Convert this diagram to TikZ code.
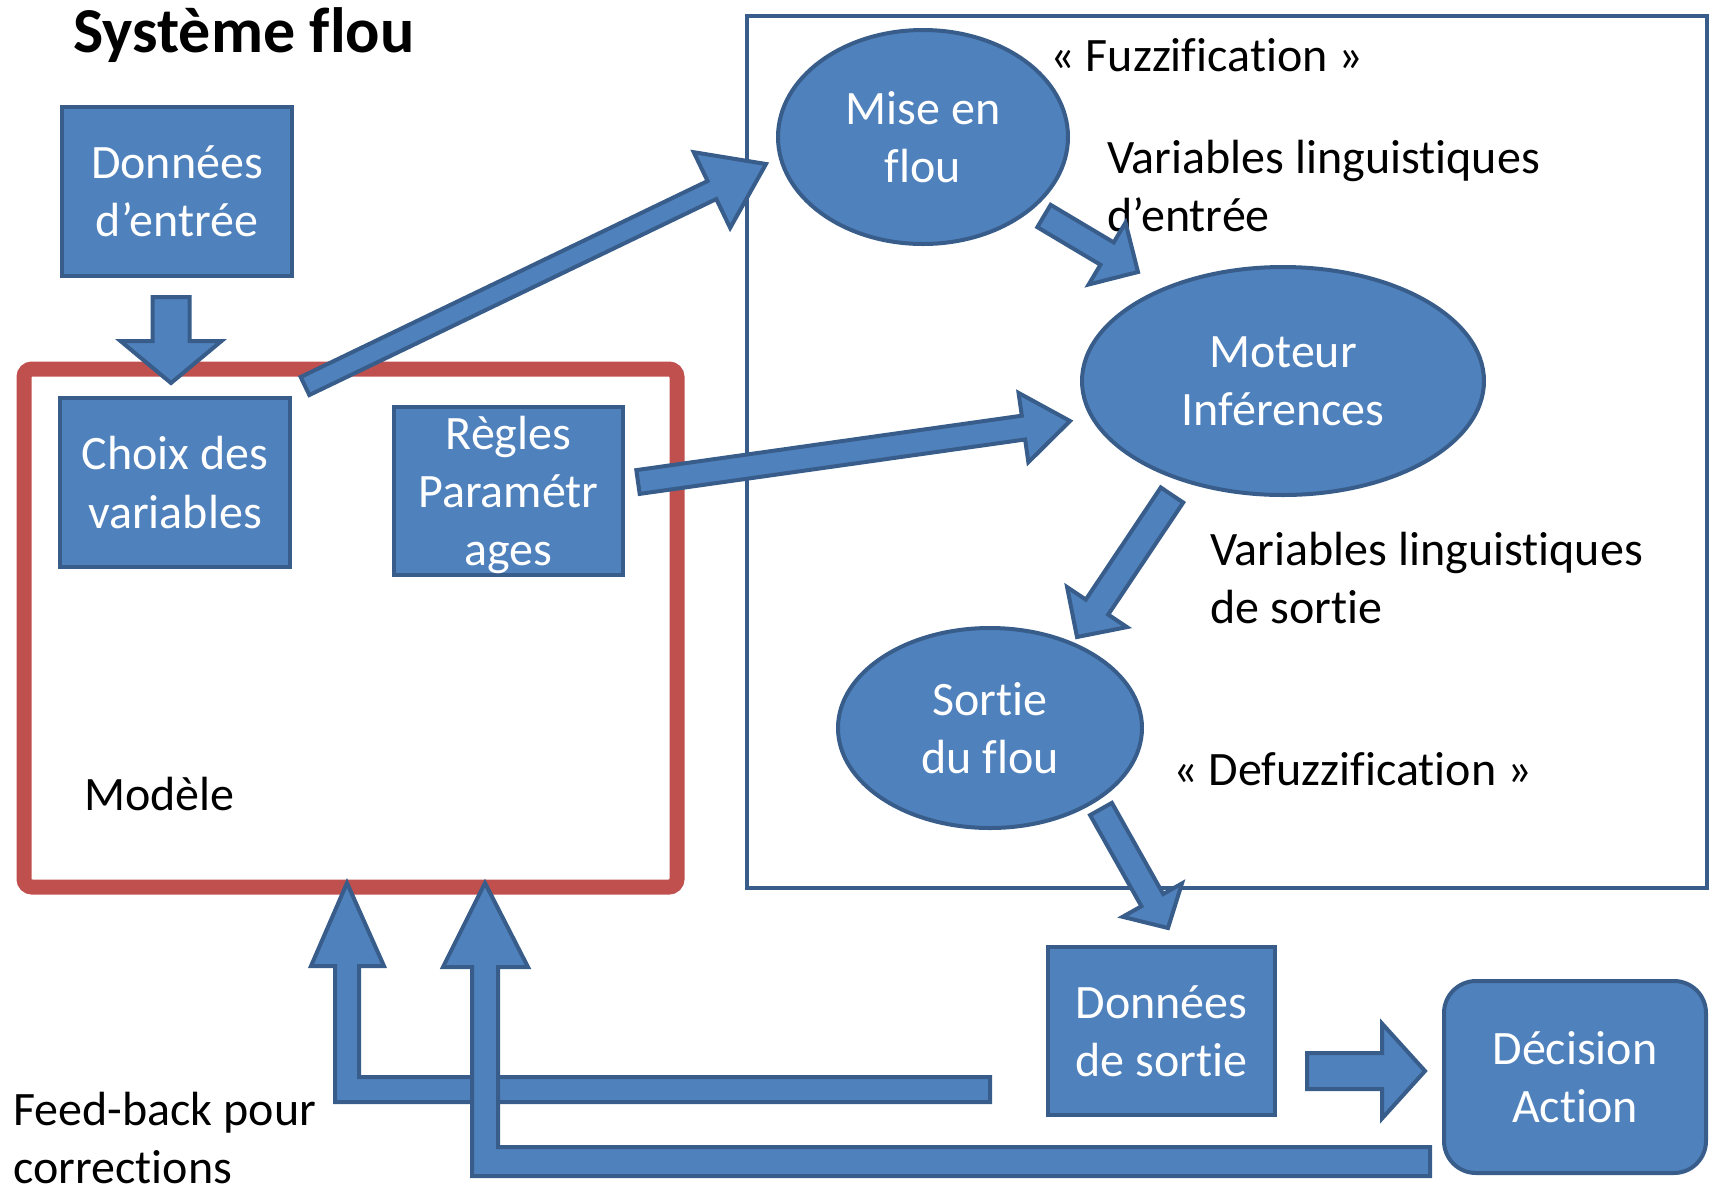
\documentclass[tikz,border=0pt]{standalone}
\usepackage{fontspec}
\setmainfont{Carlito}[Ligatures=NoCommon]
\usetikzlibrary{calc,shapes.geometric}
\definecolor{fillblue}{HTML}{4F81BD}
\definecolor{lineblue}{HTML}{385D8A}
\definecolor{modred}{HTML}{C0504D}
\newcommand\bigtext{\fontsize{24}{29}\selectfont}
\tikzset{
  bluebox/.style={rectangle, fill=fillblue, draw=lineblue, line width=2pt, text=white, align=center, inner sep=0pt, font=\bigtext},
  blueell/.style={ellipse, fill=fillblue, draw=lineblue, line width=2pt, text=white, align=center, inner sep=0pt, font=\bigtext},
  blockarrow/.style={fill=fillblue, draw=lineblue, line width=2pt, line join=miter},
  lbl/.style={anchor=base west, inner sep=0pt, align=left, font=\bigtext},
}
% #1 tail, #2 tip, #3 half shaft width, #4 half head width, #5 head length
\newcommand\barrow[5]{%
  \draw[blockarrow] let \p1=(#1), \p2=(#2), \n1={atan2(\y2-\y1,\x2-\x1)} in
    ($(\p1)+(\n1+90:#3)$) -- ($(\p2)+(\n1+180:#5)+(\n1+90:#3)$) --
    ($(\p2)+(\n1+180:#5)+(\n1+90:#4)$) -- (\p2) --
    ($(\p2)+(\n1+180:#5)+(\n1-90:#4)$) -- ($(\p2)+(\n1+180:#5)+(\n1-90:#3)$) --
    ($(\p1)+(\n1-90:#3)$) -- cycle;}
\begin{document}
\begin{tikzpicture}[x=0.5pt,y=-0.5pt]
\useasboundingbox (0,0) rectangle (1715,1185);

% title
\node[anchor=base west, inner sep=0pt, font=\fontsize{32}{38}\selectfont\bfseries] (title) at (73,52) {Système flou};

% frames
\node[draw=lineblue, line width=1.8pt, minimum width=480pt, minimum height=436pt, inner sep=0pt] (fuzzy) at (1227,452) {};
\node[draw=modred, line width=7.5pt, rounded corners=4pt, minimum width=326.5pt, minimum height=259pt, inner sep=0pt] (modele) at (350.5,628) {};

% boxes
\node[bluebox, minimum width=115pt, minimum height=84.5pt] (entree) at (177,191.5) {Données\\d’entrée};
\node[bluebox, minimum width=115pt, minimum height=84.5pt] (choix) at (175,482.5) {Choix des\\variables};
\node[bluebox, minimum width=114.5pt, minimum height=84pt, text depth=-3pt] (regles) at (508.5,491) {Règles\\Paramétr\\ages};
\node[bluebox, minimum width=113.5pt, minimum height=84pt] (dsortie) at (1161.5,1031) {Données\\de sortie};
\node[bluebox, rounded corners=16pt, minimum width=131pt, minimum height=96pt] (decision) at (1575,1077) {Décision\\Action};

% ellipses
\node[blueell, minimum width=145pt, minimum height=107pt] (mise) at (923,137) {Mise en\\flou};
\node[blueell, minimum width=201pt, minimum height=114pt] (moteur) at (1283,381) {Moteur\\Inférences};
\node[blueell, minimum width=152pt, minimum height=100pt] (sortie) at (990,728) {Sortie\\du flou};

% labels (base = baseline of last line)
\node[lbl] (fuzz) at (1050,71) {« Fuzzification »};
\node[lbl] (vle) at (1107,231) {Variables linguistiques\\d’entrée};
\node[lbl] (vls) at (1210,623) {Variables linguistiques\\de sortie};
\node[lbl] (defuzz) at (1173,785) {« Defuzzification »};
\node[lbl] (modlbl) at (84,810) {Modèle};
\node[lbl] (fb) at (13,1183) {Feed-back pour\\corrections};

% arrow end points
\coordinate (a1s) at (305,386);  \coordinate (a1e) at (766,164);
\coordinate (a2s) at (638,482);  \coordinate (a2e) at (1070,421);
\coordinate (a3s) at (1044,216); \coordinate (a3e) at (1138,272);
\coordinate (a4s) at (1172,495); \coordinate (a4e) at (1077,637);
\coordinate (a5s) at (1101,809); \coordinate (a5e) at (1168,928);
\coordinate (a6s) at (171,297);  \coordinate (a6e) at (171,383);
\coordinate (a7s) at (1307,1071); \coordinate (a7e) at (1425,1071);

\barrow{a6s}{a6e}{9.25pt}{25.25pt}{21pt}
\barrow{a1s}{a1e}{5pt}{21pt}{30pt}
\barrow{a2s}{a2e}{6pt}{17.5pt}{23.5pt}
\barrow{a3s}{a3e}{6.5pt}{18pt}{18pt}
\barrow{a4s}{a4e}{6.75pt}{18pt}{18pt}
\barrow{a5s}{a5e}{6.25pt}{17pt}{16pt}
\barrow{a7s}{a7e}{9pt}{23.75pt}{21.5pt}

% feedback arrows
\coordinate (f1s) at (990,1089.5);
\coordinate (f1e) at (347,883);
\draw[blockarrow] (f1s |- 0,1077) -- (359,1077) -- (359,966) -- (384,966) -- (f1e)
   -- (311,966) -- (335,966) -- (335,1102) -- (f1s |- 0,1102) -- cycle;
\coordinate (f2s) at (1430,1161.5);
\coordinate (f2e) at (485,883);
\draw[blockarrow] (f2s |- 0,1147) -- (498,1147) -- (498,967) -- (528,967) -- (f2e)
   -- (443,967) -- (472,967) -- (472,1176) -- (f2s |- 0,1176) -- cycle;
\end{tikzpicture}
\end{document}
